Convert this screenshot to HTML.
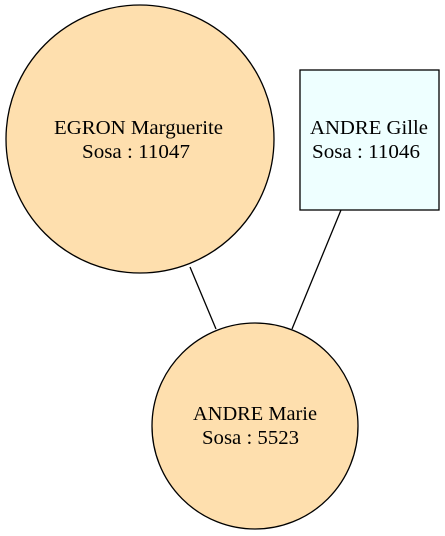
<!DOCTYPE html>
<html><head><style>html,body{margin:0;padding:0;background:#fff;}</style></head>
<body>
<svg width="445" height="536" viewBox="0 0 445 536" xmlns="http://www.w3.org/2000/svg" style="display:block">
<g font-family="Liberation Serif, serif" font-size="20" fill="#000">
<line x1="190" y1="267" x2="216" y2="329" stroke="#000" stroke-width="1.3"/>
<line x1="341" y1="210" x2="292" y2="329" stroke="#000" stroke-width="1.3"/>
<circle cx="140" cy="139" r="134" fill="#fedfae" stroke="#000" stroke-width="1.3"/>
<text x="54" y="134" textLength="169" lengthAdjust="spacingAndGlyphs">EGRON Marguerite</text>
<text x="82" y="158" textLength="108" lengthAdjust="spacingAndGlyphs">Sosa : 11047</text>
<rect x="300" y="70" width="139" height="140" fill="#eeffff" stroke="#000" stroke-width="1.3"/>
<text x="310" y="134" textLength="118" lengthAdjust="spacingAndGlyphs">ANDRE Gille</text>
<text x="312" y="158" textLength="108" lengthAdjust="spacingAndGlyphs">Sosa : 11046</text>
<circle cx="255" cy="426" r="103" fill="#fedfae" stroke="#000" stroke-width="1.3"/>
<text x="193" y="420" textLength="124" lengthAdjust="spacingAndGlyphs">ANDRE Marie</text>
<text x="202" y="444" textLength="97" lengthAdjust="spacingAndGlyphs">Sosa : 5523</text>
</g>
</svg>
</body></html>
